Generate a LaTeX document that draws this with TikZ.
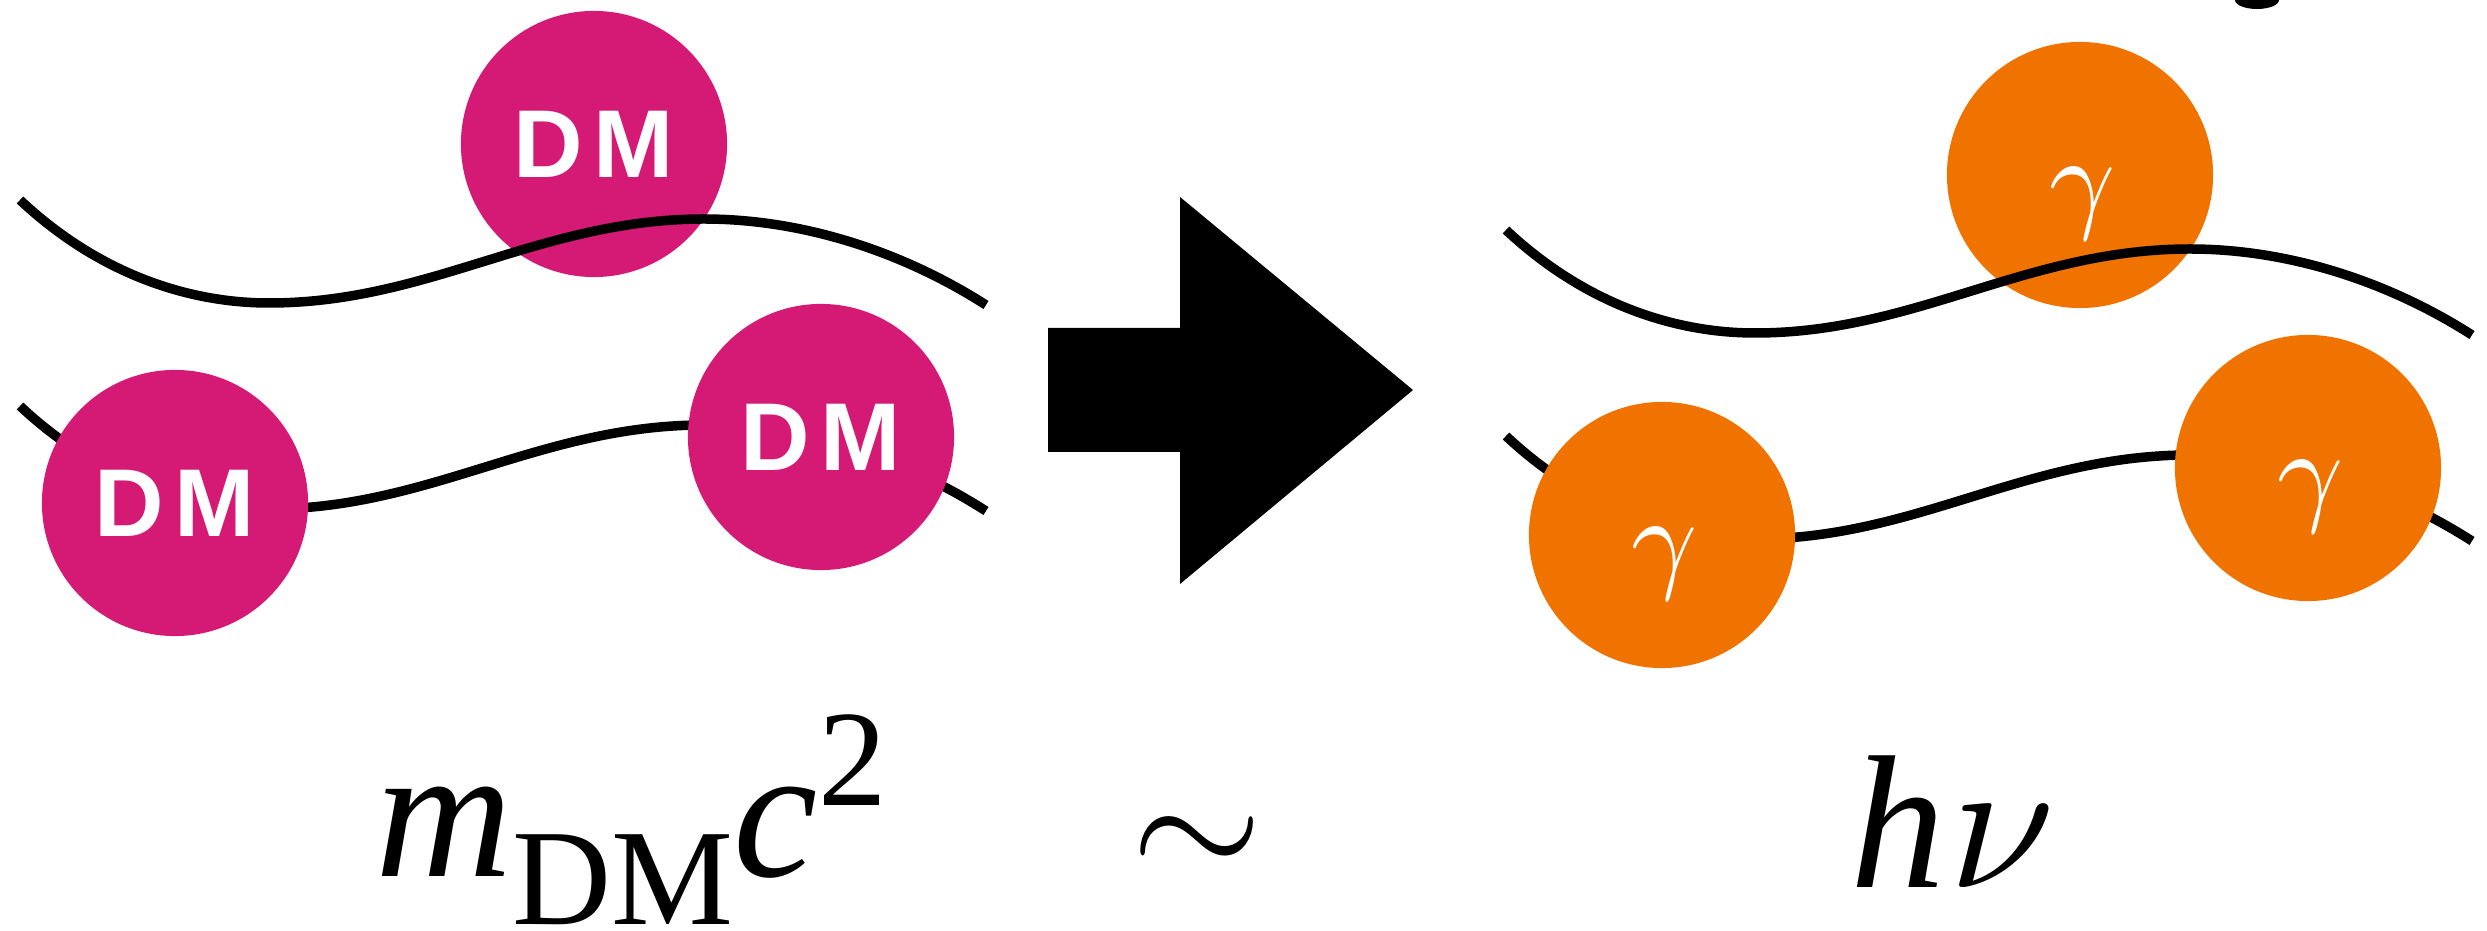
\documentclass[tikz,border=0pt]{standalone}
\usepackage{fontspec}
\setmainfont{Liberation Serif}
\newfontfamily\dmfont{Liberation Sans}
\definecolor{dmcol}{RGB}{213,26,118}
\definecolor{phcol}{RGB}{240,115,0}
\tikzset{
  dmball/.style={circle, fill=dmcol, minimum size=2.66cm, inner sep=0pt, text=white,
    font=\dmfont\bfseries\fontsize{27.4}{30}\selectfont},
  phball/.style={circle, fill=phcol, minimum size=2.66cm, inner sep=0pt},
  phlabel/.style={anchor=base, text=white, inner sep=0pt},
  wave/.style={line width=2.7pt},
  formula/.style={anchor=base west, inner sep=0pt, font=\fontsize{54}{60}\selectfont},
}
\newcommand{\wavepath}{(20,200) .. controls (100,275) and (190,303) .. (269,303)
  .. controls (430,303) and (540,219) .. (704,219)
  .. controls (800,219) and (900,250) .. (986,305)}
\newcommand{\photonsym}{\scalebox{3.28}{\normalsize$\gamma$}}
\begin{document}
\begin{tikzpicture}[x=0.01cm, y=-0.01cm]
\useasboundingbox (0,0) rectangle (2487,931);
% top circles (behind the upper lines)
\node[dmball] (dm1) at (594,144) {D\kern0.11em M};
\node[phball] (g1) at (2080,175) {};
\node[phlabel] (g1t) at (2083,218) {\photonsym};
% waves
\draw[wave] \wavepath;
\draw[wave, shift={(0,206)}] \wavepath;
\draw[wave, shift={(1486,30)}] \wavepath;
\draw[wave, shift={(1486,236)}] \wavepath;
% lower circles (in front of the lower lines)
\node[dmball] (dm2) at (175,503) {D\kern0.11em M};
\node[dmball] (dm3) at (821,437) {D\kern0.11em M};
\node[phball] (g2) at (1662,535) {};
\node[phlabel] (g2t) at (1665,578) {\photonsym};
\node[phball] (g3) at (2308,468) {};
\node[phlabel] (g3t) at (2311,511) {\photonsym};
% big arrow
\fill (1048,328) -- (1180,328) -- (1180,197) -- (1413,390) -- (1180,584) -- (1180,452) -- (1048,452) -- cycle;
% partly visible blob at the top
\fill (2257,0) ellipse [x radius=22, y radius=9];
% formulas
\node[formula] (mass) at (375,877) {\itshape m\raisebox{-13.5pt}{\upshape\fontsize{39}{40}\selectfont DM}c\raisebox{20.3pt}{\upshape\fontsize{39}{40}\selectfont 2}};
\node[anchor=base, inner sep=0pt] (sim) at (1197,879) {\scalebox{4.8}{\normalsize$\sim$}};
\node[formula] (energy) at (1850,888) {\itshape h\kern0.02em\scalebox{5.4}{\normalsize$\nu$}};
\end{tikzpicture}
\end{document}
